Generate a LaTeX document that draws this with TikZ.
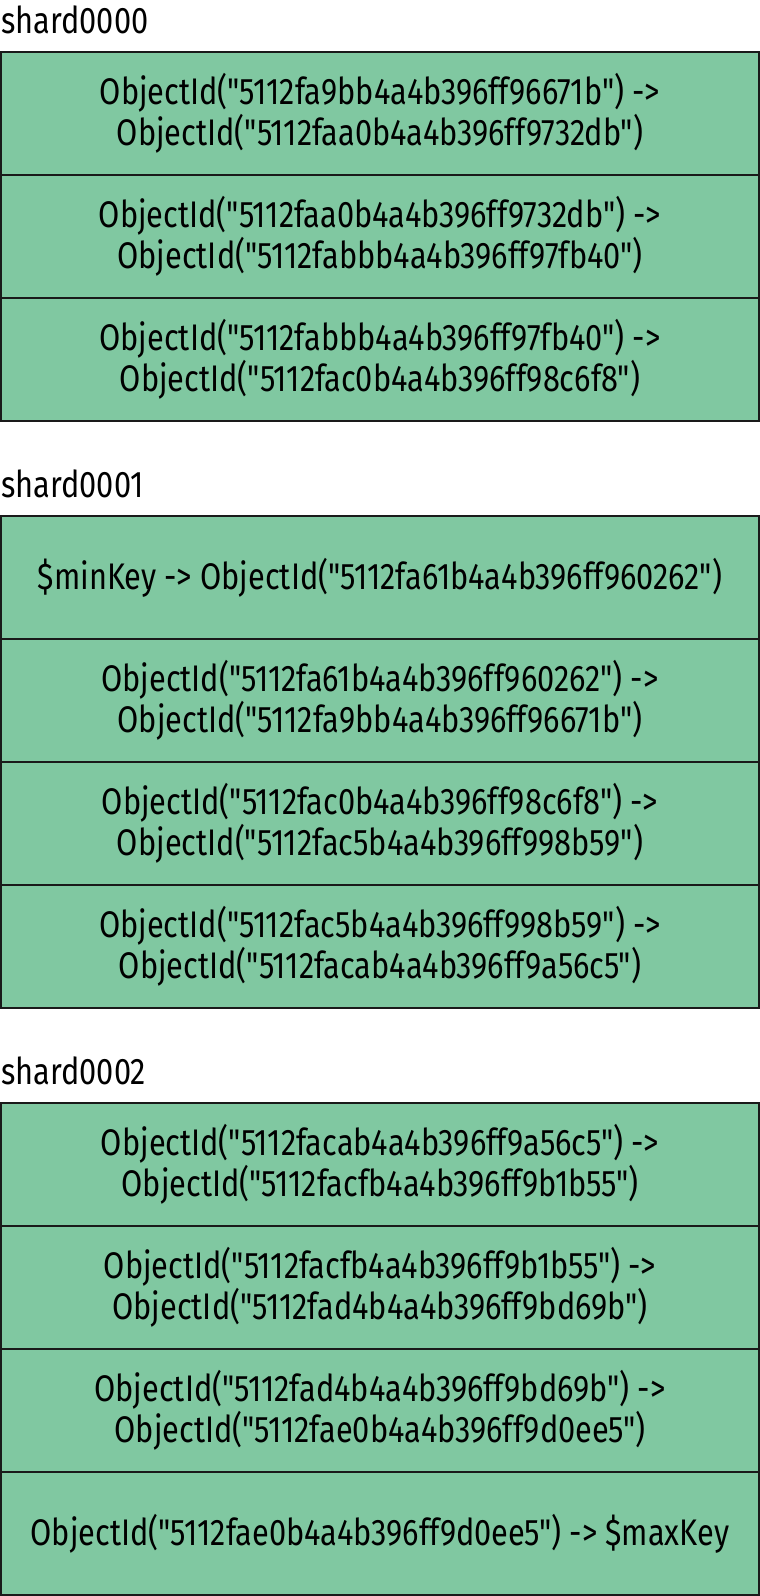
\documentclass[tikz,border=0pt]{standalone}
\usepackage{fontspec}
\newfontfamily\chunkfont{Fira Sans}[FakeStretch=0.83]
\usetikzlibrary{positioning}

\definecolor{chunkgreen}{RGB}{128,200,161}
\definecolor{chunkline}{RGB}{26,26,26}

\tikzset{
	chunk/.style={rectangle, draw=chunkline, line width=1pt, fill=chunkgreen,
		minimum width=379pt, minimum height=61.5pt, inner sep=0pt, outer sep=0pt,
		align=center, font=\chunkfont\fontsize{18.5}{19.5}\selectfont},
	shardlabel/.style={anchor=base west, inner sep=0pt,
		font=\chunkfont\fontsize{18.5}{19.5}\selectfont}
}

\begin{document}
\begin{tikzpicture}[x=0.5pt, y=-0.5pt]
	
	\useasboundingbox (0,0) rectangle (760,1596);
	
	% shard0000
	\node[shardlabel] (shardA) at (1,33) {shard0000};
	\node[chunk, anchor=north] (a1) at (380,52) {ObjectId("5112fa9bb4a4b396ff96671b") ->\\ObjectId("5112faa0b4a4b396ff9732db")};
	\node[chunk, below=0pt of a1] (a2) {ObjectId("5112faa0b4a4b396ff9732db") ->\\ObjectId("5112fabbb4a4b396ff97fb40")};
	\node[chunk, below=0pt of a2] (a3) {ObjectId("5112fabbb4a4b396ff97fb40") ->\\ObjectId("5112fac0b4a4b396ff98c6f8")};
	
	% shard0001
	\node[shardlabel] (shardB) at (1,497) {shard0001};
	\node[chunk, anchor=north] (b1) at (380,516) {\$minKey -> ObjectId("5112fa61b4a4b396ff960262")};
	\node[chunk, below=0pt of b1] (b2) {ObjectId("5112fa61b4a4b396ff960262") ->\\ObjectId("5112fa9bb4a4b396ff96671b")};
	\node[chunk, below=0pt of b2] (b3) {ObjectId("5112fac0b4a4b396ff98c6f8") ->\\ObjectId("5112fac5b4a4b396ff998b59")};
	\node[chunk, below=0pt of b3] (b4) {ObjectId("5112fac5b4a4b396ff998b59") ->\\ObjectId("5112facab4a4b396ff9a56c5")};
	
	% shard0002
	\node[shardlabel] (shardC) at (1,1084) {shard0002};
	\node[chunk, anchor=north] (c1) at (380,1103) {ObjectId("5112facab4a4b396ff9a56c5") ->\\ObjectId("5112facfb4a4b396ff9b1b55")};
	\node[chunk, below=0pt of c1] (c2) {ObjectId("5112facfb4a4b396ff9b1b55") ->\\ObjectId("5112fad4b4a4b396ff9bd69b")};
	\node[chunk, below=0pt of c2] (c3) {ObjectId("5112fad4b4a4b396ff9bd69b") ->\\ObjectId("5112fae0b4a4b396ff9d0ee5")};
	\node[chunk, below=0pt of c3] (c4) {ObjectId("5112fae0b4a4b396ff9d0ee5") -> \$maxKey};
	
\end{tikzpicture}
\end{document}
